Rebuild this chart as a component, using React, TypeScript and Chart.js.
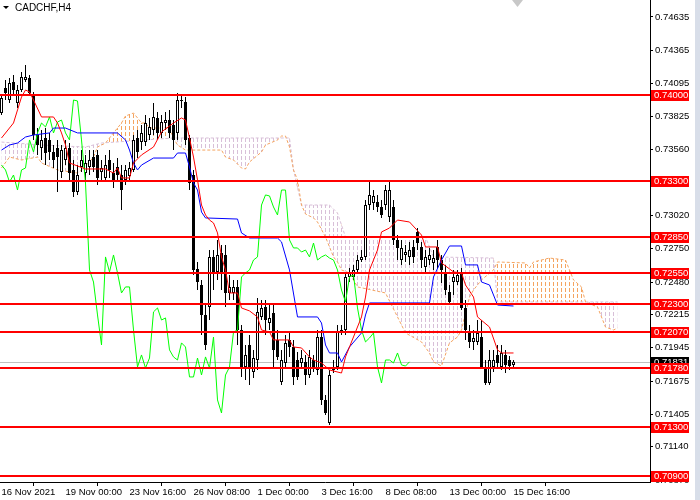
import React, { useEffect, useRef } from 'react';
import { Chart, registerables } from 'chart.js';

Chart.register(...registerables);

// ---------- data ----------
const symbolTitle = 'CADCHF,H4';

const dateLabels = [
  '16 Nov 2021', '19 Nov 00:00', '23 Nov 16:00', '26 Nov 08:00', '1 Dec 00:00',
  '3 Dec 16:00', '8 Dec 08:00', '13 Dec 00:00', '15 Dec 16:00',
];
const dateTickBars = [0, 16, 32, 48, 64, 80, 96, 112, 128];

const priceTicks = [
  0.74635, 0.74365, 0.74095, 0.73825, 0.7356, 0.7302, 0.7275, 0.7248,
  0.72215, 0.71945, 0.71675, 0.71405, 0.7114, 0.7087,
];

const levels = [0.74, 0.733, 0.7285, 0.7255, 0.723, 0.7207, 0.7178, 0.713, 0.709];
const bidPrice = 0.71831;

const opens = [
  0.73854, 0.74058, 0.7396, 0.74106, 0.73936, 0.74041, 0.74123, 0.74139, 0.74001, 0.73675,
  0.7357, 0.73651, 0.73635, 0.73537, 0.7357, 0.73375, 0.73472, 0.7357, 0.73391, 0.73212,
  0.73415, 0.73366, 0.73415, 0.73496, 0.73513, 0.73375, 0.73326, 0.73472, 0.73366, 0.73415,
  0.7335, 0.7331, 0.73342, 0.73391, 0.73651, 0.73618, 0.73618, 0.73675, 0.73716, 0.73814,
  0.73692, 0.73773, 0.73797, 0.73757, 0.73692, 0.7396, 0.73944, 0.73651, 0.7335, 0.72586,
  0.72456, 0.72212, 0.72277, 0.72684, 0.72562, 0.72716, 0.727, 0.72391, 0.72391, 0.7244,
  0.7209, 0.71789, 0.71968, 0.71749, 0.71846, 0.72196, 0.72277, 0.72147, 0.72228, 0.72009,
  0.71667, 0.71822, 0.72009, 0.71952, 0.71846, 0.71822, 0.7183, 0.71724, 0.71846, 0.71765,
  0.72033, 0.71521, 0.71334, 0.71765, 0.71789, 0.72066, 0.7209, 0.72521, 0.72521, 0.72578,
  0.72659, 0.72684, 0.73106, 0.73123, 0.73131, 0.7309, 0.73106, 0.73009, 0.7309, 0.72822,
  0.72659, 0.727, 0.72684, 0.72765, 0.72887, 0.72765, 0.72602, 0.72659, 0.72635, 0.72765,
  0.72659, 0.72554, 0.72399, 0.7248, 0.7248, 0.72554, 0.72269, 0.72066, 0.71993, 0.71993,
  0.72033, 0.71789, 0.71659, 0.71789, 0.71887, 0.71789, 0.71887, 0.71846, 0.71806,
];
const highs = [
  0.74001, 0.74123, 0.74139, 0.74163, 0.74082, 0.74188, 0.74245, 0.74163, 0.74025, 0.73732,
  0.73716, 0.73732, 0.73692, 0.73594, 0.73635, 0.73594, 0.73635, 0.7361, 0.73472, 0.73431,
  0.73553, 0.73513, 0.73553, 0.73553, 0.73553, 0.73472, 0.73513, 0.73553, 0.73448, 0.73488,
  0.73431, 0.73431, 0.73456, 0.73675, 0.73716, 0.73757, 0.73838, 0.73814, 0.73936, 0.73862,
  0.73838, 0.73862, 0.73879, 0.73797, 0.74017, 0.74001, 0.73984, 0.73675, 0.73391, 0.72643,
  0.72497, 0.72293, 0.7274, 0.7274, 0.72822, 0.72781, 0.72781, 0.72537, 0.72497, 0.72497,
  0.72131, 0.71968, 0.7205, 0.71928, 0.7235, 0.72334, 0.72334, 0.72293, 0.72293, 0.7209,
  0.71928, 0.7205, 0.72074, 0.72009, 0.71911, 0.71928, 0.71887, 0.71928, 0.71887, 0.7209,
  0.7209, 0.71562, 0.71765, 0.71846, 0.72131, 0.72131, 0.72562, 0.72594, 0.72619, 0.727,
  0.7274, 0.73147, 0.7331, 0.73228, 0.73188, 0.73147, 0.73269, 0.7331, 0.73147, 0.72862,
  0.72822, 0.72781, 0.72806, 0.72822, 0.72919, 0.72806, 0.7274, 0.72757, 0.7274, 0.72822,
  0.727, 0.72619, 0.72456, 0.72578, 0.72578, 0.72594, 0.72334, 0.72131, 0.7209, 0.72171,
  0.72171, 0.71846, 0.71928, 0.71928, 0.71968, 0.71968, 0.71928, 0.71879, 0.71846,
];
const lows = [
  0.73838, 0.7396, 0.73936, 0.74001, 0.73895, 0.74025, 0.74106, 0.73993, 0.73635, 0.73513,
  0.73472, 0.73431, 0.73472, 0.73407, 0.73212, 0.73326, 0.73431, 0.7331, 0.73171, 0.73188,
  0.73375, 0.7331, 0.7335, 0.73375, 0.73269, 0.7331, 0.73293, 0.73326, 0.73245, 0.7331,
  0.73066, 0.73269, 0.7331, 0.73375, 0.73488, 0.73553, 0.73586, 0.73635, 0.73675, 0.73635,
  0.73651, 0.73716, 0.73651, 0.73553, 0.73635, 0.73895, 0.73594, 0.73228, 0.72537, 0.72415,
  0.7205, 0.71928, 0.72171, 0.72415, 0.72497, 0.72415, 0.72277, 0.72334, 0.72334, 0.71968,
  0.71708, 0.71684, 0.71643, 0.717, 0.71765, 0.72171, 0.7205, 0.7209, 0.71789, 0.71846,
  0.71643, 0.71781, 0.71871, 0.71643, 0.71684, 0.71781, 0.71643, 0.717, 0.71749, 0.71724,
  0.7148, 0.71399, 0.71318, 0.7174, 0.71765, 0.7205, 0.7205, 0.7248, 0.72497, 0.72562,
  0.72643, 0.72659, 0.73066, 0.73066, 0.73049, 0.73001, 0.73066, 0.72968, 0.72781, 0.72659,
  0.72619, 0.72643, 0.72619, 0.72635, 0.7274, 0.72594, 0.72562, 0.72619, 0.72578, 0.72594,
  0.72472, 0.72375, 0.72293, 0.72375, 0.72456, 0.72253, 0.72009, 0.71944, 0.71928, 0.71968,
  0.71781, 0.71643, 0.71643, 0.71749, 0.71781, 0.71765, 0.7174, 0.71765, 0.71781,
];
const closes = [
  0.73976, 0.74017, 0.74098, 0.74041, 0.74041, 0.74147, 0.74147, 0.74017, 0.73675, 0.73594,
  0.73635, 0.73529, 0.73537, 0.73472, 0.73496, 0.73553, 0.7357, 0.73366, 0.73212, 0.7335,
  0.73472, 0.73448, 0.73472, 0.73415, 0.73326, 0.73407, 0.73431, 0.73391, 0.73293, 0.7335,
  0.73228, 0.73391, 0.73407, 0.73635, 0.73537, 0.73692, 0.73773, 0.73741, 0.73822, 0.73692,
  0.73781, 0.73797, 0.73692, 0.73635, 0.7396, 0.73952, 0.73635, 0.73285, 0.72578, 0.7248,
  0.72212, 0.71968, 0.72684, 0.72562, 0.727, 0.72554, 0.72391, 0.7244, 0.7244, 0.7209,
  0.71789, 0.71887, 0.71781, 0.71862, 0.72237, 0.72269, 0.72171, 0.72188, 0.71928, 0.71871,
  0.71846, 0.71985, 0.71952, 0.71708, 0.71708, 0.71862, 0.71724, 0.71871, 0.71781, 0.72033,
  0.71521, 0.71415, 0.71724, 0.71789, 0.72074, 0.7209, 0.72521, 0.72554, 0.72578, 0.72659,
  0.72684, 0.73106, 0.73188, 0.7318, 0.7309, 0.73025, 0.73228, 0.73228, 0.72822, 0.72757,
  0.72757, 0.72724, 0.7274, 0.72684, 0.72797, 0.72659, 0.72684, 0.727, 0.72675, 0.72659,
  0.72578, 0.72415, 0.72318, 0.72521, 0.72537, 0.72269, 0.7209, 0.71993, 0.72025, 0.72066,
  0.71789, 0.71659, 0.71846, 0.71846, 0.71822, 0.71903, 0.71806, 0.71797, 0.71831,
];

const chikouShift = 26;
const cloudBars = 155; // bars covered by the (shifted) cloud

// [bar index, price]
const tenkan: [number, number][] = [
  [0, 0.73651], [3, 0.73773], [4, 0.73879], [5, 0.73984], [6, 0.74041], [7, 0.74025], [8, 0.7396],
  [10, 0.73822], [13, 0.73822], [14, 0.73773], [15, 0.73692], [16, 0.73594], [17, 0.73448],
  [21, 0.73399], [26, 0.73399], [28, 0.73366], [29, 0.73407], [30, 0.73326], [32, 0.73326],
  [33, 0.73448], [35, 0.73513], [38, 0.73578], [40, 0.737], [43, 0.73773], [45, 0.73814],
  [46, 0.73797], [47, 0.73651], [48, 0.73496], [49, 0.7331], [50, 0.73106], [51, 0.73025],
  [52, 0.72984], [53, 0.7296], [54, 0.72879], [55, 0.72684], [56, 0.72578], [57, 0.72391],
  [59, 0.72391], [60, 0.72269], [62, 0.72245], [64, 0.72196], [65, 0.7209], [67, 0.72074],
  [68, 0.72009], [72, 0.72009], [73, 0.71952], [75, 0.71944], [77, 0.71871], [78, 0.71846],
  [80, 0.71822], [82, 0.71765], [85, 0.7174], [86, 0.71871], [90, 0.72196], [91, 0.72358],
  [92, 0.72578], [94, 0.7274], [95, 0.72887], [97, 0.72919], [99, 0.72984], [102, 0.72968],
  [105, 0.72862], [106, 0.72765], [109, 0.72765], [110, 0.72635], [113, 0.72562], [115, 0.72554],
  [116, 0.72456], [118, 0.72358], [119, 0.72196], [122, 0.72114], [124, 0.71928], [125, 0.71903],
  [128, 0.71903],
];
const kijun: [number, number][] = [
  [0, 0.73553], [2, 0.73594], [4, 0.7361], [6, 0.73659], [8, 0.73675], [12, 0.73692], [13, 0.73732],
  [16, 0.73732], [19, 0.73692], [29, 0.73692], [31, 0.73635], [32, 0.73553], [33, 0.73448],
  [34, 0.73391], [35, 0.73431], [38, 0.73488], [43, 0.73488], [44, 0.73529], [46, 0.73529],
  [47, 0.73415], [48, 0.73285], [49, 0.73228], [50, 0.73049], [51, 0.73001], [59, 0.72992],
  [60, 0.72879], [62, 0.72838], [69, 0.72838], [70, 0.72806], [72, 0.72578], [74, 0.72196],
  [79, 0.72196], [80, 0.72147], [81, 0.71968], [82, 0.71903], [84, 0.71903], [85, 0.7183],
  [87, 0.71952], [90, 0.72066], [91, 0.72212], [92, 0.7231], [107, 0.7231], [108, 0.72521],
  [110, 0.72659], [112, 0.72773], [115, 0.72773], [116, 0.72619], [119, 0.72619], [120, 0.7248],
  [122, 0.72456], [124, 0.72293], [128, 0.72285],
];
const spanA: [number, number][] = [
  [0, 0.73407], [2, 0.73496], [5, 0.73472], [9, 0.73496], [10, 0.73448], [14, 0.73391],
  [19, 0.73366], [20, 0.73391], [22, 0.73456], [23, 0.73496], [24, 0.73578], [26, 0.7361],
  [28, 0.73692], [30, 0.73773], [31, 0.7383], [33, 0.73854], [34, 0.73814], [35, 0.73773],
  [36, 0.73773], [37, 0.73732], [42, 0.73732], [43, 0.73651], [44, 0.73594], [46, 0.73553],
  [55, 0.73553], [56, 0.73496], [58, 0.73472], [60, 0.73407], [61, 0.73399], [62, 0.73456],
  [65, 0.73537], [66, 0.73594], [69, 0.73635], [70, 0.73667], [71, 0.73667], [72, 0.73578],
  [73, 0.73391], [74, 0.7331], [75, 0.73106], [76, 0.73033], [78, 0.73001], [79, 0.72968],
  [81, 0.72846], [83, 0.72684], [84, 0.72643], [85, 0.72578], [87, 0.72554], [89, 0.7244],
  [96, 0.72391], [99, 0.72196], [101, 0.72066], [105, 0.71993], [107, 0.71903], [108, 0.7183],
  [110, 0.71797], [112, 0.71985], [114, 0.72033], [115, 0.7209], [117, 0.72358], [118, 0.72415],
  [120, 0.72497], [123, 0.72578], [124, 0.72643], [131, 0.72635], [132, 0.72594], [133, 0.72643],
  [137, 0.72675], [141, 0.72659], [142, 0.72578], [143, 0.72497], [145, 0.7244], [146, 0.72318],
  [149, 0.72277], [151, 0.72114], [153, 0.7209], [154, 0.72106],
];
const spanB: [number, number][] = [
  [0, 0.73618], [10, 0.73594], [21, 0.73578], [25, 0.7361], [43, 0.73651], [72, 0.73651],
  [73, 0.73391], [75, 0.73106], [82, 0.73106], [84, 0.73041], [86, 0.72846], [106, 0.72846],
  [108, 0.72684], [123, 0.72675], [124, 0.72318], [154, 0.72318],
];

// ---------- component ----------
const FONT = '"Liberation Sans", Arial, sans-serif';
const SANDY = '#F4A460';
const THISTLE = '#D8BFD8';
const SPAN_A_INDEX = 5;
const SPAN_B_INDEX = 6;

export default function App() {
  const ref = useRef<HTMLCanvasElement>(null);

  useEffect(() => {
    document.body.style.margin = '0';
    document.body.style.overflow = 'hidden';
    const canvas = ref.current;
    if (!canvas) return;

    const bodyColors = closes.map((c, i) => (c >= opens[i] ? '#ffffff' : '#000000'));

    // Kumo hatch: vertical dotted strokes at each bar, clipped to the area between the spans
    const kumo = {
      id: 'kumoHatch',
      beforeDatasetsDraw(chart: any) {
        const { ctx, chartArea, scales } = chart;
        const a = chart.getDatasetMeta(SPAN_A_INDEX).data;
        const b = chart.getDatasetMeta(SPAN_B_INDEX).data;
        if (!a.length || !b.length) return;
        const between = () => {
          ctx.beginPath();
          ctx.moveTo(a[0].x, a[0].y);
          for (let k = 1; k < a.length; k++) ctx.lineTo(a[k].x, a[k].y);
          for (let k = b.length - 1; k >= 0; k--) ctx.lineTo(b[k].x, b[k].y);
          ctx.closePath();
        };
        const side = (edge: number) => {
          ctx.beginPath();
          ctx.moveTo(b[0].x, edge);
          for (let k = 0; k < b.length; k++) ctx.lineTo(b[k].x, b[k].y);
          ctx.lineTo(b[b.length - 1].x, edge);
          ctx.closePath();
        };
        const hatch = (color: string) => {
          ctx.strokeStyle = color;
          ctx.lineWidth = 1;
          ctx.setLineDash([4, 2]);
          ctx.lineDashOffset = 0;
          ctx.beginPath();
          for (let i = 0; i < cloudBars; i++) {
            const px = scales.x.getPixelForValue(i);
            ctx.moveTo(px, 0);
            ctx.lineTo(px, chartArea.bottom);
          }
          ctx.stroke();
        };
        // A above B -> sandy
        ctx.save();
        ctx.beginPath();
        ctx.rect(chartArea.left, chartArea.top, chartArea.right - chartArea.left, chartArea.bottom - chartArea.top);
        ctx.clip();
        between();
        ctx.clip('evenodd');
        side(chartArea.top - 5);
        ctx.clip();
        hatch(SANDY);
        ctx.restore();
        // B above A -> thistle
        ctx.save();
        ctx.beginPath();
        ctx.rect(chartArea.left, chartArea.top, chartArea.right - chartArea.left, chartArea.bottom - chartArea.top);
        ctx.clip();
        between();
        ctx.clip('evenodd');
        side(chartArea.bottom + 5);
        ctx.clip();
        hatch(THISTLE);
        ctx.restore();
      },
    };

    const overlay = {
      id: 'mtOverlay',
      beforeDatasetsDraw(chart: any) {
        const { ctx, chartArea, scales } = chart;
        const py = Math.round(scales.y.getPixelForValue(bidPrice)) + 0.5;
        ctx.save();
        ctx.strokeStyle = '#C0C0C0';
        ctx.lineWidth = 1;
        ctx.beginPath();
        ctx.moveTo(chartArea.left, py);
        ctx.lineTo(chartArea.right, py);
        ctx.stroke();
        ctx.restore();
      },
      afterDatasetsDraw(chart: any) {
        const { ctx, chartArea, scales } = chart;
        ctx.save();
        ctx.strokeStyle = '#FF0000';
        ctx.lineWidth = 2;
        levels.forEach((v) => {
          const py = Math.round(scales.y.getPixelForValue(v));
          ctx.beginPath();
          ctx.moveTo(chartArea.left, py);
          ctx.lineTo(chartArea.right, py);
          ctx.stroke();
        });
        ctx.restore();
      },
      afterDraw(chart: any) {
        const { ctx, chartArea, scales } = chart;
        ctx.save();
        ctx.font = `9.5px ${FONT}`;
        ctx.textBaseline = 'middle';
        ctx.textAlign = 'left';
        const x0 = chartArea.right + 1;
        // current price label
        const by = Math.round(scales.y.getPixelForValue(bidPrice));
        ctx.fillStyle = '#000000';
        ctx.fillRect(x0, by - 5, 38, 11);
        ctx.fillStyle = '#ffffff';
        ctx.fillText(bidPrice.toFixed(5), x0 + 3, by + 0.5);
        // level labels
        levels.forEach((v) => {
          const py = Math.round(scales.y.getPixelForValue(v));
          ctx.fillStyle = '#FF0000';
          ctx.fillRect(x0, py - 5, 38, 11);
          ctx.fillStyle = '#ffffff';
          ctx.fillText(v.toFixed(5), x0 + 3, py + 0.5);
        });
        // title
        ctx.fillStyle = '#000000';
        ctx.beginPath();
        ctx.moveTo(3, 6);
        ctx.lineTo(9, 6);
        ctx.lineTo(6, 9);
        ctx.closePath();
        ctx.fill();
        ctx.font = `10px ${FONT}`;
        ctx.fillText(symbolTitle, 15, 8);
        // shift marker
        ctx.fillStyle = '#C8C8C8';
        ctx.beginPath();
        ctx.moveTo(512, 0);
        ctx.lineTo(523, 0);
        ctx.lineTo(517.5, 7);
        ctx.closePath();
        ctx.fill();
        // right strip
        ctx.fillStyle = '#D8DEE9';
        ctx.fillRect(695, 0, 5, 500);
        ctx.restore();
      },
    };

    const lineBase = {
      type: 'line' as const,
      pointRadius: 0,
      borderWidth: 1,
      tension: 0,
      fill: false,
    };

    const chart = new Chart(canvas, {
      type: 'bar',
      data: {
        datasets: [
          { ...lineBase, label: 'Tenkan', data: tenkan.map(([x, y]) => ({ x, y })), borderColor: '#FF0000', order: 0 },
          { ...lineBase, label: 'Kijun', data: kijun.map(([x, y]) => ({ x, y })), borderColor: '#0000FF', order: 1 },
          {
            ...lineBase,
            label: 'Chikou',
            data: closes.slice(chikouShift).map((c, j) => ({ x: j, y: c })),
            borderColor: '#00FF00',
            order: 2,
          },
          {
            type: 'bar',
            label: 'Body',
            data: opens.map((o, i) => ({ x: i, y: [o, closes[i]] })),
            backgroundColor: bodyColors,
            borderColor: '#000000',
            borderWidth: 1,
            borderSkipped: false,
            grouped: false,
            barPercentage: 0.75,
            categoryPercentage: 1,
            inflateAmount: 0,
            order: 3,
          } as any,
          {
            type: 'bar',
            label: 'Wick',
            data: lows.map((l, i) => ({ x: i, y: [l, highs[i]] })),
            backgroundColor: '#000000',
            borderWidth: 0,
            grouped: false,
            barPercentage: 0.25,
            categoryPercentage: 1,
            inflateAmount: 0,
            order: 4,
          } as any,
          {
            ...lineBase,
            label: 'SpanA',
            data: spanA.map(([x, y]) => ({ x, y })),
            borderColor: SANDY,
            borderDash: [3, 2],
            order: 5,
          },
          {
            ...lineBase,
            label: 'SpanB',
            data: spanB.map(([x, y]) => ({ x, y })),
            borderColor: THISTLE,
            borderDash: [3, 2],
            order: 6,
          },
        ] as any,
      },
      options: {
        responsive: false,
        animation: false,
        devicePixelRatio: 1,
        layout: { padding: 0 },
        plugins: { legend: { display: false }, tooltip: { enabled: false } },
        scales: {
          x: {
            type: 'linear',
            min: -0.375,
            max: 162.125,
            offset: false,
            bounds: 'data',
            afterBuildTicks: (s: any) => {
              s.ticks = dateTickBars.map((v) => ({ value: v }));
            },
            afterFit: (s: any) => {
              s.height = 18;
              s.paddingLeft = 0;
              s.paddingRight = 0;
            },
            grid: { drawOnChartArea: false, drawTicks: true, tickLength: 4, color: '#000000' },
            border: { display: true, color: '#000000' },
            ticks: {
              autoSkip: false,
              maxRotation: 0,
              align: 'start',
              padding: 1,
              color: '#000000',
              font: { family: FONT, size: 9.5 },
              callback: (_v: any, idx: number) => dateLabels[idx],
            },
          },
          y: {
            type: 'linear',
            position: 'right',
            min: 0.70854,
            max: 0.74773,
            bounds: 'data',
            afterBuildTicks: (s: any) => {
              s.ticks = priceTicks.map((v) => ({ value: v }));
            },
            afterFit: (s: any) => {
              s.width = 50;
              s.paddingTop = 0;
              s.paddingBottom = 0;
            },
            grid: { drawOnChartArea: false, drawTicks: true, tickLength: 3, color: '#000000' },
            border: { display: true, color: '#000000' },
            ticks: {
              autoSkip: false,
              padding: 2,
              color: '#000000',
              font: { family: FONT, size: 9.5 },
              callback: (v: any) => Number(v).toFixed(5),
            },
          },
        },
      } as any,
      plugins: [kumo, overlay],
    });

    return () => chart.destroy();
  }, []);

  return (
    <div style={{ width: 700, height: 500, position: 'relative', background: '#ffffff' }}>
      <canvas ref={ref} width={700} height={500} style={{ display: 'block' }} />
    </div>
  );
}
